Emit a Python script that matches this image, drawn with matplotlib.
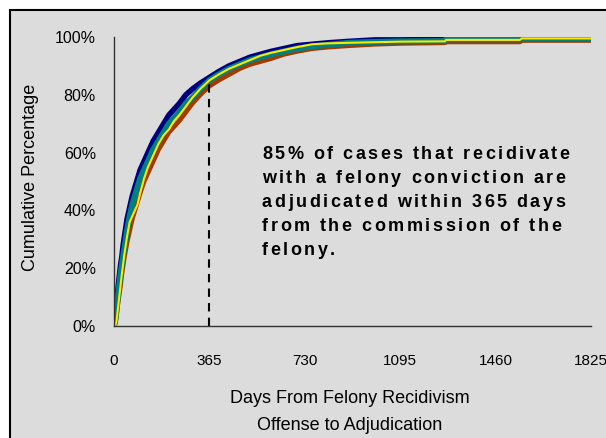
import matplotlib
matplotlib.use("Agg")
import matplotlib.pyplot as plt
from matplotlib.patches import Rectangle

plt.rcParams['font.family'] = ['Liberation Sans', 'DejaVu Sans']

# --- dane ---
navy_dni = [0, 5, 10, 15, 20, 25, 30, 35, 40, 50, 60, 70, 80, 90, 100, 115, 130,
            150, 170, 190, 210, 230, 250, 275, 300, 330, 365, 400, 440, 480, 520,
            560, 600, 650, 700, 760, 820, 900, 1000, 1100, 1266, 1270, 1553, 1560, 1825]
navy_proc = [0, 3, 8, 13, 17, 21, 24, 28, 31, 37, 41, 45, 48, 51, 54, 57, 60,
             64, 67, 70, 73, 75, 77, 80, 82, 84, 86, 88, 90, 91.5, 93,
             94, 95, 96, 97, 97.5, 98, 98.5, 99, 99, 99.2, 99.6, 99.6, 100, 100]

dni = [0, 5, 10, 15, 20, 25, 30, 40, 50, 60, 70, 80, 90, 100, 115, 130, 150,
       170, 190, 210, 230, 250, 275, 300, 330, 365, 400, 440, 480, 520, 560,
       600, 650, 700, 760, 820, 900, 1000, 1100, 1266, 1270, 1553, 1560, 1825]
brazowa_proc = [0, 1, 4, 8, 11, 14, 18, 24, 29, 33, 37, 40, 43, 46, 50, 53, 57,
                61, 64, 67, 69, 71, 74, 77, 80, 83, 85, 87, 89, 90.5, 91.5,
                92.5, 94, 95, 96, 96.5, 97, 97.5, 97.8, 98, 98.3, 98.3, 98.8, 98.8]
morska_proc = [0, 2, 6, 10, 14, 18, 21, 27, 33, 38, 42, 45, 48, 51, 54, 57, 61,
               64, 67, 70, 72, 74, 77, 79, 82, 85, 87, 89, 90.5, 92, 93,
               94, 95, 96, 96.8, 97.3, 98, 98.3, 98.5, 98.6, 99.2, 99.2, 99.5, 99.5]
zolta_proc = [0, 0, 2, 6, 10, 14, 18, 25, 31, 36, 38, 40, 42, 46, 51, 55, 59,
              63, 66, 68, 71, 73, 76, 79, 82, 85, 87, 89, 90.5, 92, 93.5,
              94.5, 95.5, 96.5, 97.5, 97.8, 98, 98.2, 98.4, 98.5, 99, 99, 99.5, 99.5]

x_ticks = [0, 365, 730, 1095, 1460, 1825]
y_ticks = [0, 20, 40, 60, 80, 100]
y_tick_labels = ["0%", "20%", "40%", "60%", "80%", "100%"]

opis = ["85% of cases that recidivate",
        "with a felony conviction are",
        "adjudicated within 365 days",
        "from the commission of the",
        "felony."]

# --- wykres ---
fig = plt.figure(figsize=(6.06, 4.38), dpi=100)
fig.patch.set_facecolor("white")
fig.patches.append(Rectangle((10 / 606, -0.1), 1.0, (438 - 10) / 438 + 0.1,
                             transform=fig.transFigure, facecolor="#DCDCDC",
                             edgecolor="black", linewidth=1.5, zorder=-5))

ax = fig.add_axes([114 / 606, 1 - 326 / 438, 477 / 606, 289 / 438])
ax.set_facecolor("none")
ax.set_zorder(1)

ax.plot(navy_dni, navy_proc, color="#000080", linewidth=4)
ax.plot(dni, brazowa_proc, color="#A33A00", linewidth=3.4)
ax.plot(dni, morska_proc, color="#008080", linewidth=4.3)
ax.plot(dni, zolta_proc, color="#FFE800", linewidth=1.5)

ax.plot([365, 365], [0, 84], color="black", linestyle=(0, (4, 3)), linewidth=1.5)

ax.set_xlim(0, 1825)
ax.set_ylim(0, 100)
ax.set_xticks(x_ticks)
ax.set_yticks(y_ticks)
ax.set_yticklabels(y_tick_labels)
ax.tick_params(axis="both", length=0, labelsize=11.5, colors="black")
ax.tick_params(axis="x", pad=20, labelsize=11)
ax.tick_params(axis="y", pad=13)

for s in ["top", "right"]:
    ax.spines[s].set_visible(False)
for s in ["left", "bottom"]:
    ax.spines[s].set_color("#333333")
    ax.spines[s].set_linewidth(1)

ax.set_ylabel("Cumulative Percentage", fontsize=13)
ax.yaxis.set_label_coords(-0.158, 0.516)
ax.set_xlabel("Days From Felony Recidivism\nOffense to Adjudication",
              fontsize=13, linespacing=1.75)
ax.xaxis.set_label_coords(0.495, -0.222)

# tekst z rozstrzelonymi literami
fig.canvas.draw()
renderer = fig.canvas.get_renderer()


def szerokosc(tekst):
    t = fig.text(0, 0, tekst, fontsize=13, fontweight="bold")
    w = t.get_window_extent(renderer).width
    t.remove()
    return w


odstep = 2.5
wx = szerokosc("x")
for k in range(len(opis)):
    linia = opis[k]
    baza = 159 + 24 * k
    for i in range(len(linia)):
        if linia[i] == " ":
            continue
        pos = szerokosc(linia[:i] + "x") - wx + i * odstep
        fig.text((262 + pos) / 606, 1 - baza / 438, linia[i], fontsize=13,
                 fontweight="bold", va="baseline", ha="left")

fig.savefig("out.png", dpi=100)
